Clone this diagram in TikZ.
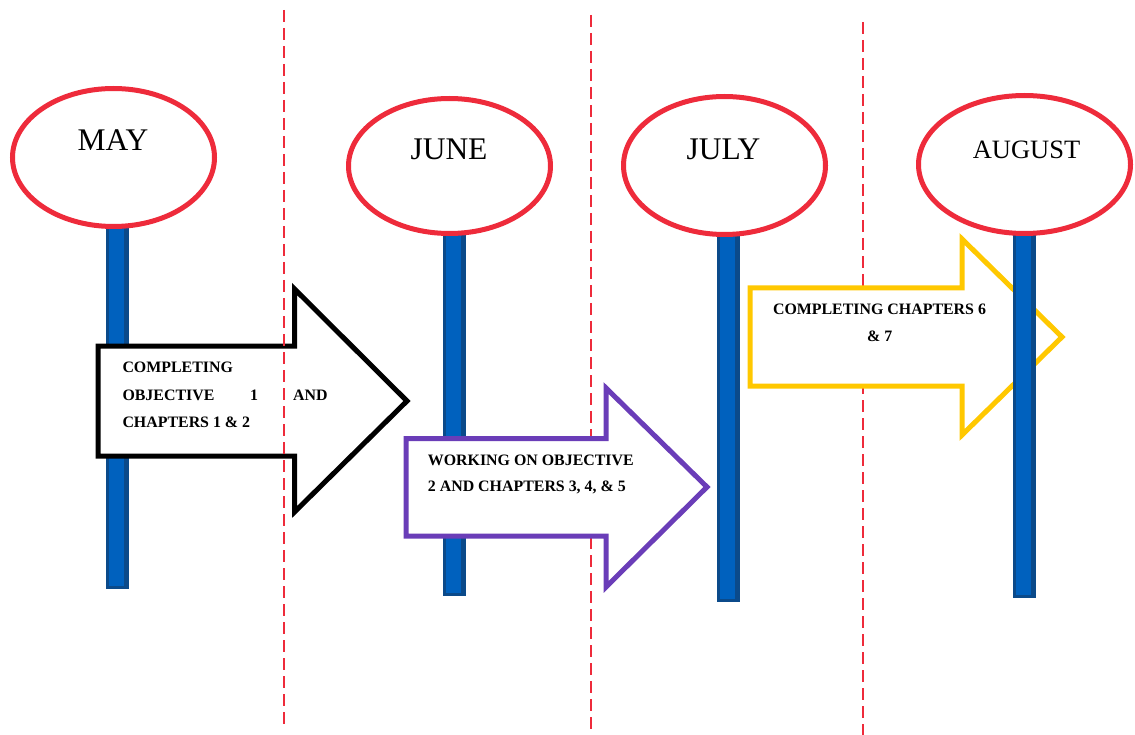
\documentclass[tikz,border=0pt]{standalone}
\usepackage{fontspec}
\setmainfont{Liberation Serif}
\usetikzlibrary{shapes.geometric}

\definecolor{ringred}{HTML}{EE2B3B}
\definecolor{poleblue}{HTML}{0061BE}
\definecolor{poledark}{HTML}{0B4A8A}
\definecolor{stagepurple}{HTML}{6A3DB8}
\definecolor{stagegold}{HTML}{FFC800}

% one vertical timeline pole: #1 left x, #2 top y, #3 bottom y
\newcommand{\polebar}[3]{%
  \fill[poledark] (#1,#2) rectangle ++(23,#3-#2);
  \fill[poleblue] (#1+3,#2) rectangle (#1+18,#3-3);
}

\tikzset{
  month/.style={shape=ellipse, draw=ringred, line width=5pt, fill=white,
    inner sep=0pt, minimum width=202pt, minimum height=138pt},
  monthtext/.style={anchor=base, inner sep=0pt,
    font=\fontsize{31.5}{36}\selectfont},
  divider/.style={draw=ringred, line width=1.5pt, dash pattern=on 12pt off 6pt},
  stagebox/.style={fill=white, line width=5pt, line join=miter, miter limit=10},
  stagetext/.style={inner sep=0pt, font=\fontsize{15.9}{18}\selectfont\bfseries},
}

\begin{document}
\begin{tikzpicture}[x=1pt,y=-1pt]
\useasboundingbox (0,0) rectangle (1135,735);

% poles standing below the month rings
\polebar{106}{225}{589}
\polebar{443}{230}{596}
\polebar{717}{230}{602}

% May-June stage
\draw[stagebox, draw=black] (98,346) -- (294.5,346) -- (294.5,289) -- (407,401)
  -- (294.5,512) -- (294.5,456) -- (98,456) -- cycle;
\node[stagetext, anchor=base west] (s1a) at (122.3,372.3) {COMPLETING};
\node[stagetext, anchor=base west] (s1b) at (122.3,400) {OBJECTIVE};
\node[stagetext, anchor=base west] (s1c) at (250,400) {1};
\node[stagetext, anchor=base west] (s1d) at (293,400) {AND};
\node[stagetext, anchor=base west] (s1e) at (122.3,427.3) {CHAPTERS 1 \& 2};

% month dividers
\coordinate (d1t) at (284,10);  \coordinate (d1b) at (284,727);
\coordinate (d2t) at (591,15);  \coordinate (d2b) at (591,735);
\coordinate (d3t) at (863,22);  \coordinate (d3b) at (863,735);
\draw[divider] (d1t) -- (d1b);
\draw[divider] (d2t) -- (d2b);
\draw[divider] (d3t) -- (d3b);

% June-July stage
\draw[stagebox, draw=stagepurple] (406,438.5) -- (606,438.5) -- (606,388) -- (707,487)
  -- (606,587) -- (606,536) -- (406,536) -- cycle;
\node[stagetext, anchor=base west] (s2a) at (427.7,465) {WORKING ON OBJECTIVE};
\node[stagetext, anchor=base west] (s2b) at (427.7,491.7) {2 AND CHAPTERS 3, 4, \& 5};

% July-August stage
\draw[stagebox, draw=stagegold] (750,288) -- (962,288) -- (962,239) -- (1062,337)
  -- (962,435) -- (962,386) -- (750,386) -- cycle;
\node[stagetext, anchor=base] (s3a) at (879.5,314) {COMPLETING CHAPTERS 6};
\node[stagetext, anchor=base] (s3b) at (879.7,341.7) {\& 7};

\polebar{1013}{230}{598}

% month rings
\node[month] (may) at (113.5,157.5) {};
\node[month, minimum height=135pt] (june) at (449.5,166) {};
\node[month] (july) at (724.5,165.5) {};
\node[month, minimum width=212pt] (august) at (1024.5,164.5) {};

\node[monthtext] (maytxt) at (113,150.7) {MAY};
\node[monthtext] (junetxt) at (449,159.3) {JUNE};
\node[monthtext] (julytxt) at (723.5,160) {JULY};
\node[monthtext, font=\fontsize{26.5}{30}\selectfont] (augtxt) at (1026.5,158.3) {AUGUST};
\end{tikzpicture}
\end{document}
